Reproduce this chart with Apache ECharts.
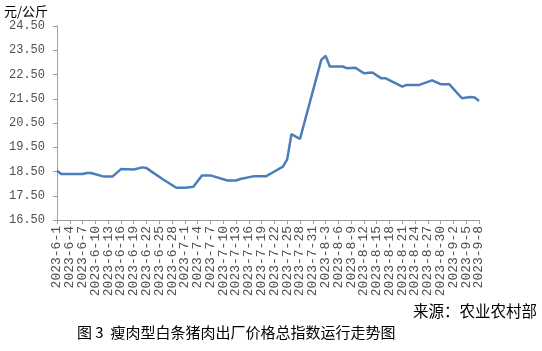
<!DOCTYPE html>
<html>
<head>
<meta charset="utf-8">
<script src="https://cdn.jsdelivr.net/npm/echarts@6/dist/echarts.min.js"></script>
<style>html,body{margin:0;padding:0;background:#fff;}#c{width:542px;height:351px;}</style>
</head>
<body>
<div id="c"></div>
<script>
// Category range (daily, 2023-6-1 .. 2023-9-8)
var monthDays = [[6, 1, 30], [7, 1, 31], [8, 1, 31], [9, 1, 8]];
// Observed points (dates and index values, 元/公斤)
var pointDates = ['2023-6-1','2023-6-2','2023-6-7','2023-6-8','2023-6-9','2023-6-12','2023-6-14','2023-6-16','2023-6-19','2023-6-21','2023-6-22','2023-6-26','2023-6-29','2023-7-1','2023-7-3','2023-7-5','2023-7-7','2023-7-11','2023-7-13','2023-7-14','2023-7-17','2023-7-20','2023-7-22','2023-7-24','2023-7-25','2023-7-26','2023-7-28','2023-8-2','2023-8-3','2023-8-4','2023-8-7','2023-8-8','2023-8-10','2023-8-12','2023-8-14','2023-8-16','2023-8-17','2023-8-21','2023-8-22','2023-8-25','2023-8-28','2023-8-30','2023-9-1','2023-9-4','2023-9-6','2023-9-7','2023-9-8'];
var pointValues = [18.53,18.40,18.40,18.44,18.44,18.29,18.29,18.60,18.58,18.67,18.64,18.16,17.83,17.83,17.87,18.34,18.34,18.13,18.13,18.19,18.30,18.30,18.50,18.70,19.00,20.04,19.84,23.10,23.27,22.83,22.83,22.76,22.78,22.55,22.58,22.35,22.35,22.00,22.07,22.07,22.26,22.10,22.10,21.52,21.57,21.55,21.41];
var labelEvery = 3;
var yMin = 16.5, yMax = 24.5, yStep = 1;
var unitLabel = '元/公斤';
var sourceText = '来源：农业农村部';
var captionText = '图 3  瘦肉型白条猪肉出厂价格总指数运行走势图';

var categories = [];
monthDays.forEach(function (m) {
  for (var d = m[1]; d <= m[2]; d++) categories.push('2023-' + m[0] + '-' + d);
});
var seriesData = categories.map(function (c) {
  var k = pointDates.indexOf(c);
  return k >= 0 ? pointValues[k] : null;
});

var chart = echarts.init(document.getElementById('c'), null, {renderer: 'canvas'});
chart.setOption({
  animation: false,
  backgroundColor: '#ffffff',
  grid: {left: 57, right: 63, top: 26, bottom: 131, containLabel: false},
  graphic: [
    {type: 'text', left: 4, top: 5, style: {text: unitLabel, fontSize: 13, fill: '#000', fontFamily: 'Noto Sans CJK SC'}},
    {type: 'text', right: 5, top: 303, style: {text: sourceText, fontSize: 15.5, fill: '#000', fontFamily: 'Noto Sans CJK SC'}},
    {type: 'text', left: 77, top: 325, style: {text: captionText, fontSize: 15, fill: '#000', fontFamily: 'Noto Sans CJK SC'}}
  ],
  xAxis: {
    type: 'category',
    data: categories,
    boundaryGap: false,
    axisLine: {lineStyle: {color: '#a0a0a0', width: 1}},
    axisTick: {show: true, interval: function (i) { return i % labelEvery === 0; }, length: 4, lineStyle: {color: '#a0a0a0'}},
    axisLabel: {
      interval: 0, rotate: 90, margin: 6, fontSize: 13, color: '#505050', fontFamily: 'Liberation Mono',
      showMinLabel: true, showMaxLabel: true, hideOverlap: false,
      formatter: function (v, i) { return i % labelEvery === 0 ? v : ''; }
    },
    splitLine: {show: false}
  },
  yAxis: {
    type: 'value',
    min: yMin, max: yMax, interval: yStep,
    axisLine: {show: true, lineStyle: {color: '#a0a0a0', width: 1}},
    axisTick: {show: true, length: 4, lineStyle: {color: '#a0a0a0'}},
    axisLabel: {fontSize: 12, color: '#505050', margin: 12, fontFamily: 'Liberation Mono', formatter: function (v) { return v.toFixed(2); }},
    splitLine: {show: false}
  },
  series: [{
    type: 'line',
    data: seriesData,
    connectNulls: true,
    showSymbol: false,
    symbol: 'none',
    lineStyle: {color: '#4a7ebb', width: 2.5},
    itemStyle: {color: '#4a7ebb'}
  }]
});
</script>
</body>
</html>
